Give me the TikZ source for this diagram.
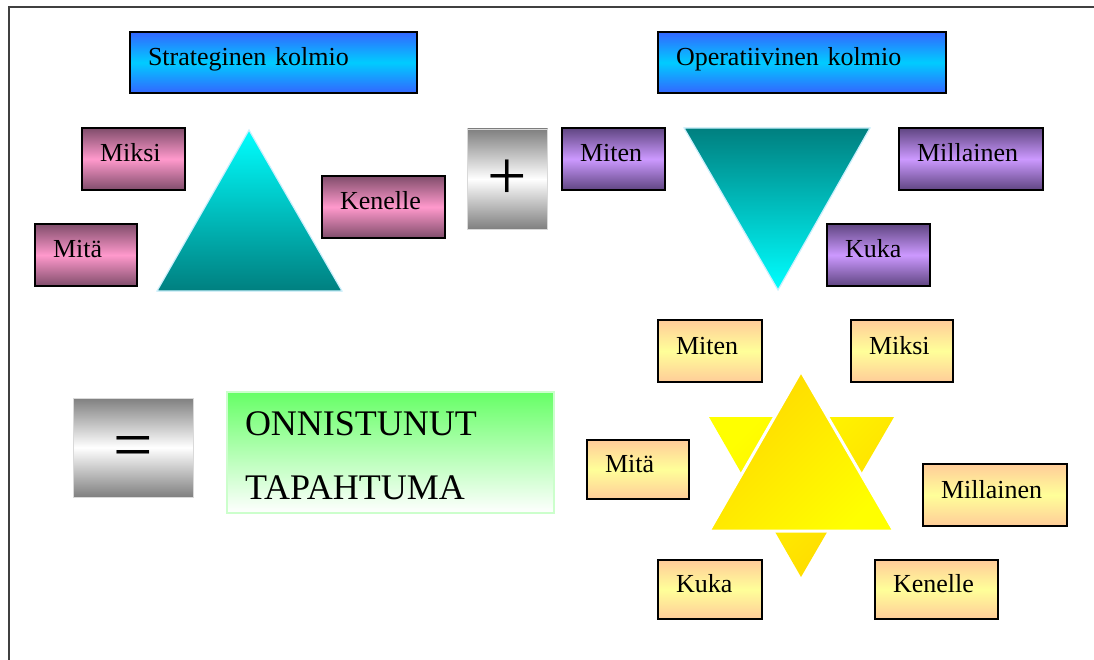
\documentclass[tikz,border=0pt]{standalone}
\usepackage{fontspec}
\setmainfont{Liberation Serif}

\definecolor{skyblue}{RGB}{51,102,255}
\definecolor{skycyan}{RGB}{0,204,255}
\definecolor{mauve}{RGB}{128,77,107}
\definecolor{rosy}{RGB}{255,153,204}
\definecolor{plum}{RGB}{96,70,130}
\definecolor{lilac}{RGB}{204,153,255}
\definecolor{peach}{RGB}{255,204,153}
\definecolor{lemon}{RGB}{255,255,153}
\definecolor{leaf}{RGB}{102,255,102}
\definecolor{leafline}{RGB}{204,255,204}
\definecolor{gold}{RGB}{255,215,0}
\definecolor{sun}{RGB}{255,255,0}
\definecolor{frameline}{RGB}{64,64,64}

\begin{document}
\begin{tikzpicture}[x=1pt, y=-1pt,
            tagbox/.style={draw=black, line width=1.5pt, inner xsep=18pt, inner ysep=0pt,
                align=left, text height=18pt, text depth=12pt, minimum height=62pt,
                font=\fontsize{26}{30}\selectfont},
            headbox/.style={tagbox, minimum height=61pt,
                top color=skyblue, bottom color=skyblue, middle color=skycyan},
            pinkbox/.style={tagbox, top color=mauve, bottom color=mauve, middle color=rosy},
            lilacbox/.style={tagbox, top color=plum, bottom color=plum, middle color=lilac},
            peachbox/.style={tagbox, top color=peach, bottom color=peach, middle color=lemon},
            signbox/.style={draw=gray!30, line width=0.8pt, inner sep=0pt,
                top color=gray, bottom color=gray, middle color=white,
                text height=42pt, text depth=0pt, font=\fontsize{70}{70}\selectfont},
            resultbox/.style={draw=leafline, line width=1.5pt, inner xsep=18pt, inner ysep=0pt,
                top color=leaf, bottom color=white, align=left,
                minimum width=327pt, minimum height=121pt, text width=291pt,
                font=\fontsize{36}{64}\selectfont}
        ]
            \useasboundingbox (0,0) rectangle (1094,660);
            \draw[frameline, line width=1.5pt] (9,660) -- (9,7) -- (1094,7);

            % titles
            \node[headbox, text width=251pt] (strat) at (273.5,62.5) {Strateginen kolmio};
            \node[headbox, text width=252pt] (oper) at (802,62.5) {Operatiivinen kolmio};

            % strategic triangle
            \shadedraw[draw=cyan!20, line width=1.2pt, top color=cyan, bottom color=teal]
                (249,130) -- (342,291) -- (157,291) -- cycle;
            \node[pinkbox, text width=67pt] (stratMiksi) at (133.5,159) {Miksi};
            \node[pinkbox, text width=66pt] (stratMita) at (86,255) {Mitä};
            \node[pinkbox, text width=87pt] (stratKenelle) at (383.5,207) {Kenelle};

            \node[signbox, minimum width=80pt, minimum height=100pt] (plus) at (507.5,179) {+};

            % operative triangle
            \shadedraw[draw=cyan!20, line width=1.2pt, top color=teal, bottom color=cyan]
                (684,128) -- (870,128) -- (778,290) -- cycle;
            \node[lilacbox, text width=67pt] (operMiten) at (613.5,159) {Miten};
            \node[lilacbox, text width=108pt] (operMillainen) at (971,159) {Millainen};
            \node[lilacbox, text width=67pt] (operKuka) at (878.5,255) {Kuka};

            \node[signbox, minimum width=120pt, minimum height=99pt] (equals) at (133,447.5) {=};
            \node[resultbox] (result) at (390.5,452.5) {\rule{0pt}{31pt}ONNISTUNUT\\TAPAHTUMA};

            % star - up triangle on top, white edge cuts the other one
            \shade[top color=sun, bottom color=gold, shading angle=45]
                (709,417) -- (894,417) -- (801,577) -- cycle;
            \shadedraw[draw=white, line width=3pt, top color=gold, bottom color=sun, shading angle=45]
                (801,371) -- (894,531) -- (709,531) -- cycle;
            \node[peachbox, text width=68pt] (starMiten) at (710,351) {Miten};
            \node[peachbox, text width=66pt] (starMiksi) at (902,351) {Miksi};
            \node[peachbox, text width=66pt, minimum height=59pt] (starMita) at (638,469.5) {Mitä};
            \node[peachbox, text width=108pt] (starMillainen) at (995,495) {Millainen};
            \node[peachbox, text width=68pt, minimum height=59pt] (starKuka) at (710,589.5) {Kuka};
            \node[peachbox, text width=87pt, minimum height=59pt] (starKenelle) at (936.5,589.5) {Kenelle};
        \end{tikzpicture}
\end{document}
